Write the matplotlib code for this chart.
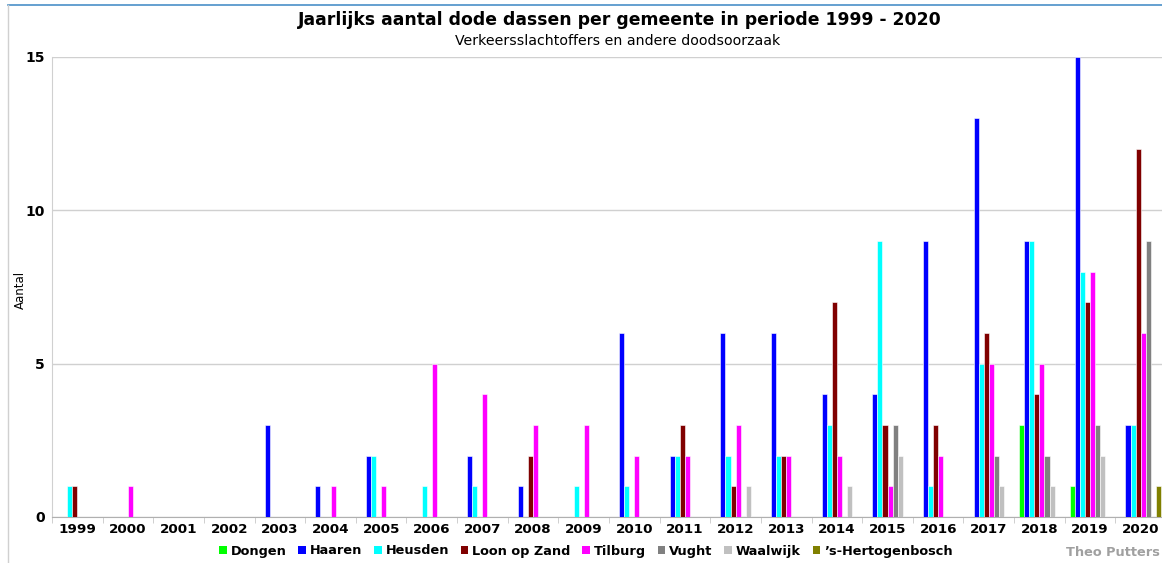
import numpy as np
import matplotlib
import matplotlib.pyplot as plt
from matplotlib.lines import Line2D
from matplotlib.patches import Patch

matplotlib.use('Agg')

plt.rcParams['font.family'] = 'DejaVu Sans'

# Data
years = [str(y) for y in range(1999, 2021)]
gemeenten = ['Dongen', 'Haaren', 'Heusden', 'Loon op Zand', 'Tilburg', 'Vught', 'Waalwijk', '\u2019s-Hertogenbosch']
kleuren = ['#00ff00', '#0000ff', '#00ffff', '#800000', '#ff00ff', '#808080', '#c0c0c0', '#808000']

#                1999 .. 2020
dongen       = [0, 0, 0, 0, 0, 0, 0, 0, 0, 0, 0, 0, 0, 0, 0, 0, 0, 0, 0, 3, 1, 0]
haaren       = [0, 0, 0, 0, 3, 1, 2, 0, 2, 1, 0, 6, 2, 6, 6, 4, 4, 9, 13, 9, 15, 3]
heusden      = [1, 0, 0, 0, 0, 0, 2, 1, 1, 0, 1, 1, 2, 2, 2, 3, 9, 1, 5, 9, 8, 3]
loon_op_zand = [1, 0, 0, 0, 0, 0, 0, 0, 0, 2, 0, 0, 3, 1, 2, 7, 3, 3, 6, 4, 7, 12]
tilburg      = [0, 1, 0, 0, 0, 1, 1, 5, 4, 3, 3, 2, 2, 3, 2, 2, 1, 2, 5, 5, 8, 6]
vught        = [0, 0, 0, 0, 0, 0, 0, 0, 0, 0, 0, 0, 0, 0, 0, 0, 3, 0, 2, 2, 3, 9]
waalwijk     = [0, 0, 0, 0, 0, 0, 0, 0, 0, 0, 0, 0, 0, 1, 0, 1, 2, 0, 1, 1, 2, 0]
den_bosch    = [0, 0, 0, 0, 0, 0, 0, 0, 0, 0, 0, 0, 0, 0, 0, 0, 0, 0, 0, 0, 0, 1]

reeksen = [dongen, haaren, heusden, loon_op_zand, tilburg, vught, waalwijk, den_bosch]

fig = plt.figure(figsize=(11.62, 5.63), dpi=100)
ax = fig.add_axes([52 / 1162, 46 / 563, 1114 / 1162, 460 / 563])

x = np.arange(len(years))
w = 0.1
for i, (vals, naam, kleur) in enumerate(zip(reeksen, gemeenten, kleuren)):
    ax.bar(x + (i - 3.5) * w, vals, width=w, color=kleur, label=naam,
           edgecolor='white', linewidth=0.4, zorder=3)

ax.set_xlim(-0.5, len(years) - 0.5)
ax.set_ylim(0, 15)
ax.set_yticks([0, 5, 10, 15])
ax.set_yticklabels(['0', '5', '10', '15'], fontweight='bold', fontsize=10)
ax.set_xticks(x)
ax.set_xticklabels(years, fontweight='bold', fontsize=9.7)
ax.set_xticks(np.arange(-0.5, len(years), 1), minor=True)
ax.tick_params(axis='x', which='major', length=0, pad=4)
ax.tick_params(axis='x', which='minor', length=4, color='#c8c8c8')
ax.tick_params(axis='y', length=0, pad=5)
ax.grid(axis='y', color='#d0d0d0', linewidth=1, zorder=0)
for s in ['top', 'right']:
    ax.spines[s].set_visible(False)
ax.spines['left'].set_color('#d0d0d0')
ax.spines['bottom'].set_color('#b0b0b0')

fig.text(20 / 1162, 1 - 290 / 563, 'Aantal', rotation=90, fontsize=8.5, ha='center', va='center')

fig.text(620 / 1162, 1 - 20 / 563, 'Jaarlijks aantal dode dassen per gemeente in periode 1999 - 2020',
         fontsize=12.4, fontweight='bold', ha='center', va='center')
fig.text(618 / 1162, 1 - 41 / 563, 'Verkeersslachtoffers en andere doodsoorzaak',
         fontsize=10.2, ha='center', va='center')

handles = [Patch(facecolor=k, edgecolor='none') for k in kleuren]
fig.legend(handles, gemeenten, loc='center', bbox_to_anchor=(586 / 1162, 1 - 551 / 563), ncol=8,
           frameon=False, handlelength=0.6, handleheight=0.6, handletextpad=0.3, columnspacing=0.9,
           prop={'weight': 'bold', 'size': 9.3})

fig.text(1160 / 1162, 1 - 553 / 563, 'Theo Putters', color='#a0a0a0', fontsize=9.3,
         fontweight='bold', ha='right', va='center')

# rand bovenaan en links
fig.add_artist(Line2D([8 / 1162, 1], [1 - 5 / 563, 1 - 5 / 563], color='#4a90c8', linewidth=1.2))
fig.add_artist(Line2D([8 / 1162, 8 / 1162], [0, 1 - 5 / 563], color='#d0d0d0', linewidth=1))

fig.savefig('out.png', dpi=100)
